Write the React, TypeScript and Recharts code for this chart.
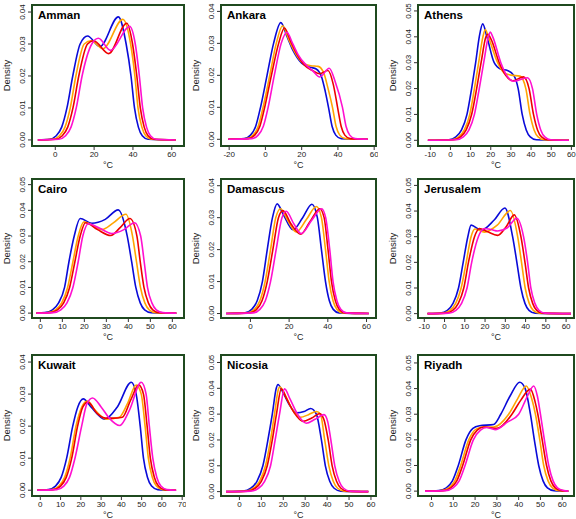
import { LineChart, Line, XAxis, YAxis, ReferenceArea } from "recharts";

type Pt = [number, number];

const lineColors = ["#0a0ad8", "#ffa500", "#ee0000", "#ff10d0"];
const boxColor = "#1f4a1f";

const cityNames = ["Amman", "Ankara", "Athens", "Cairo", "Damascus", "Jerusalem", "Kuwait", "Nicosia", "Riyadh"];

const yTicks4 = [0, 0.01, 0.02, 0.03, 0.04];
const yTicks5 = [0, 0.01, 0.02, 0.03, 0.04, 0.05];

// Amman
const ammanTicks = [0, 20, 40, 60];
const ammanBlue: Pt[] = [[-9,0],[-3,0.0002],[0.5,0.0013],[3.3,0.004],[6,0.01],[9,0.02],[12.8,0.03],[16.6,0.0325],[23,0.0292],[32.5,0.0385],[36.5,0.03],[39,0.02],[40.8,0.01],[42.8,0.004],[44.8,0.0013],[47.8,0.0002],[62,0]];
const ammanOrange: Pt[] = [[-9,0],[-1.3,0.0002],[2.2,0.0013],[5,0.004],[7.7,0.01],[10.6,0.02],[14.9,0.03],[18.5,0.031],[24.5,0.0285],[34.8,0.0377],[38.8,0.03],[41,0.02],[42.6,0.01],[44.6,0.004],[46.6,0.0013],[49.6,0.0002],[62,0]];
const ammanRed: Pt[] = [[-9,0],[0.1,0.0002],[3.6,0.0013],[6.4,0.004],[9.1,0.01],[12.1,0.02],[16.6,0.03],[19.8,0.031],[27.5,0.027],[36.8,0.0365],[39.8,0.03],[42,0.02],[43.8,0.01],[45.8,0.004],[47.8,0.0013],[50.8,0.0002],[62,0]];
const ammanMagenta: Pt[] = [[-9,0],[1.8,0.0002],[5.3,0.0013],[8.1,0.004],[10.8,0.01],[13.8,0.02],[18.8,0.03],[22.2,0.0318],[28.5,0.028],[38.3,0.0355],[41.2,0.03],[43.3,0.02],[45,0.01],[47,0.004],[49,0.0013],[52,0.0002],[62,0]];

// Ankara
const ankaraTicks = [-20, 0, 20, 40, 60];
const ankaraBlue: Pt[] = [[-20.5,0],[-11.7,0.0002],[-8.2,0.0013],[-5.4,0.004],[-2.7,0.01],[0.9,0.02],[4.5,0.03],[8.5,0.0365],[12,0.032],[15,0.028],[20,0.0238],[25,0.0225],[28,0.022],[31,0.0195],[33,0.015],[34.8,0.01],[36.8,0.004],[38.8,0.0013],[41.8,0.0002],[56.5,0]];
const ankaraOrange: Pt[] = [[-20.5,0],[-10.3,0.0002],[-6.8,0.0013],[-4,0.004],[-1.3,0.01],[2.4,0.02],[6,0.03],[9.5,0.0355],[13,0.031],[16,0.0275],[20,0.0242],[25,0.023],[29,0.0228],[32,0.021],[34.5,0.016],[37,0.01],[39,0.004],[41,0.0013],[44,0.0002],[56.5,0]];
const ankaraRed: Pt[] = [[-20.5,0],[-9.4,0.0002],[-5.9,0.0013],[-3.1,0.004],[-0.4,0.01],[3.3,0.02],[7.3,0.03],[10.5,0.0348],[14,0.0305],[17,0.027],[21,0.0235],[26,0.0215],[30,0.0205],[34.5,0.0215],[37.5,0.017],[39.8,0.01],[41.8,0.004],[43.8,0.0013],[46.8,0.0002],[56.5,0]];
const ankaraMagenta: Pt[] = [[-20.5,0],[-7.5,0.0002],[-4,0.0013],[-1.2,0.004],[1.5,0.01],[4.9,0.02],[8.7,0.03],[11.8,0.0335],[15,0.03],[18,0.0265],[22,0.0235],[26,0.0215],[30,0.0195],[35.2,0.0222],[38.5,0.018],[42.5,0.01],[44.5,0.004],[46.5,0.0013],[49.5,0.0002],[56.5,0]];

// Athens
const athensTicks = [-10, 0, 10, 20, 30, 40, 50, 60];
const athensBlue: Pt[] = [[-11.2,0],[-0.8,0.0002],[2.7,0.0013],[5.5,0.004],[8.2,0.01],[10.5,0.02],[12.5,0.03],[14.3,0.04],[16,0.045],[18.1,0.04],[21.7,0.03],[25,0.0275],[28.3,0.027],[31.5,0.025],[33.6,0.02],[35.6,0.01],[37.6,0.004],[39.6,0.0013],[42.6,0.0002],[58.8,0]];
const athensOrange: Pt[] = [[-11.2,0],[0.6,0.0002],[4.1,0.0013],[6.9,0.004],[9.6,0.01],[11.9,0.02],[14,0.03],[16.1,0.04],[17.3,0.0428],[18.8,0.04],[23.4,0.03],[26.7,0.026],[30,0.0252],[34.5,0.0248],[37.4,0.02],[39.5,0.01],[41.5,0.004],[43.5,0.0013],[46.5,0.0002],[58.8,0]];
const athensRed: Pt[] = [[-11.2,0],[1.5,0.0002],[5,0.0013],[7.8,0.004],[10.5,0.01],[13,0.02],[15.2,0.03],[17.6,0.04],[18.6,0.041],[20.2,0.039],[24.2,0.03],[27.5,0.025],[30.8,0.023],[36.2,0.0245],[39,0.02],[41.2,0.01],[43.2,0.004],[45.2,0.0013],[48.2,0.0002],[58.8,0]];
const athensMagenta: Pt[] = [[-11.2,0],[2.9,0.0002],[6.4,0.0013],[9.2,0.004],[11.9,0.01],[14.3,0.02],[16.5,0.03],[18.8,0.04],[19.8,0.0418],[21,0.04],[25,0.03],[28,0.025],[31.3,0.0228],[38.2,0.0242],[40.7,0.02],[42.8,0.01],[44.8,0.004],[46.8,0.0013],[49.8,0.0002],[58.8,0]];

// Cairo
const cairoTicks = [0, 10, 20, 30, 40, 50, 60];
const cairoBlue: Pt[] = [[-1.8,0],[2,0.0002],[5.5,0.0013],[8.3,0.004],[11,0.01],[13,0.02],[15.4,0.03],[18.1,0.0368],[23.4,0.035],[29.5,0.0365],[35.4,0.0402],[39.5,0.03],[41.5,0.02],[43.4,0.01],[45.4,0.004],[47.4,0.0013],[50.4,0.0002],[61.8,0]];
const cairoOrange: Pt[] = [[-1.8,0],[3.4,0.0002],[6.9,0.0013],[9.7,0.004],[12.4,0.01],[14.8,0.02],[17.2,0.03],[19.8,0.0355],[23,0.0345],[28,0.0325],[33,0.035],[38.9,0.0385],[41.9,0.03],[43.7,0.02],[45.5,0.01],[47.5,0.004],[49.5,0.0013],[52.5,0.0002],[61.8,0]];
const cairoRed: Pt[] = [[-1.8,0],[4.3,0.0002],[7.8,0.0013],[10.6,0.004],[13.3,0.01],[15.7,0.02],[18.1,0.03],[20.5,0.0352],[26,0.0325],[32,0.0302],[36.5,0.0335],[40.7,0.0368],[43.9,0.03],[45.4,0.02],[47.1,0.01],[49.1,0.004],[51.1,0.0013],[54.1,0.0002],[61.8,0]];
const cairoMagenta: Pt[] = [[-1.8,0],[5.8,0.0002],[9.3,0.0013],[12.1,0.004],[14.8,0.01],[17.2,0.02],[19.3,0.03],[21.8,0.0348],[27,0.033],[32.5,0.031],[38,0.0325],[42.8,0.0352],[45.6,0.03],[47.2,0.02],[48.7,0.01],[50.7,0.004],[52.7,0.0013],[55.7,0.0002],[61.8,0]];

// Damascus
const damascusTicks = [0, 20, 40, 60];
const damascusBlue: Pt[] = [[-12.6,0],[-2.8,0.0002],[0.7,0.0013],[3.5,0.004],[6.2,0.01],[8.7,0.02],[11.4,0.03],[13.8,0.0343],[17,0.031],[22,0.0262],[27,0.03],[31.8,0.0342],[34.6,0.03],[36.7,0.02],[38.8,0.01],[40.8,0.004],[42.8,0.0013],[45.8,0.0002],[61.2,0]];
const damascusOrange: Pt[] = [[-12.6,0],[-1.4,0.0002],[2.1,0.0013],[4.9,0.004],[7.6,0.01],[10.4,0.02],[13.1,0.03],[15.6,0.0328],[19,0.0295],[23.7,0.0255],[29,0.0295],[34.1,0.0335],[36.7,0.03],[38.8,0.02],[40.7,0.01],[42.7,0.004],[44.7,0.0013],[47.7,0.0002],[61.2,0]];
const damascusRed: Pt[] = [[-12.6,0],[-0.3,0.0002],[3.2,0.0013],[6,0.004],[8.7,0.01],[11.6,0.02],[14.5,0.03],[16.8,0.0322],[21,0.028],[26,0.0248],[31,0.029],[35.8,0.0328],[38.1,0.03],[40.1,0.02],[41.9,0.01],[43.9,0.004],[45.9,0.0013],[48.9,0.0002],[61.2,0]];
const damascusMagenta: Pt[] = [[-12.6,0],[1.4,0.0002],[4.9,0.0013],[7.7,0.004],[10.4,0.01],[13.3,0.02],[16.3,0.03],[18.5,0.032],[22.5,0.028],[26.3,0.025],[31.5,0.029],[36.8,0.0328],[38.9,0.03],[41,0.02],[42.7,0.01],[44.7,0.004],[46.7,0.0013],[49.7,0.0002],[61.2,0]];

// Jerusalem
const jerusalemTicks = [-10, 0, 10, 20, 30, 40, 50, 60];
const jerusalemBlue: Pt[] = [[-8.4,0],[-2.1,0.0002],[1.4,0.0013],[4.2,0.004],[6.9,0.01],[9.2,0.02],[11.5,0.03],[13.1,0.0345],[18,0.0325],[24.5,0.0365],[29.8,0.0412],[33.6,0.03],[35.7,0.02],[37.7,0.01],[39.7,0.004],[41.7,0.0013],[44.7,0.0002],[62.4,0]];
const jerusalemOrange: Pt[] = [[-8.4,0],[-0.8,0.0002],[2.7,0.0013],[5.5,0.004],[8.2,0.01],[10.7,0.02],[13.1,0.03],[15,0.033],[19.7,0.0318],[26,0.0345],[32.5,0.0402],[36.1,0.03],[38,0.02],[39.8,0.01],[41.8,0.004],[43.8,0.0013],[46.8,0.0002],[62.4,0]];
const jerusalemRed: Pt[] = [[-8.4,0],[0.5,0.0002],[4,0.0013],[6.8,0.004],[9.5,0.01],[11.8,0.02],[14.8,0.03],[17.2,0.0332],[21,0.032],[26.2,0.0305],[30.5,0.034],[34.4,0.0385],[37.7,0.03],[39.7,0.02],[41.5,0.01],[43.5,0.004],[45.5,0.0013],[48.5,0.0002],[62.4,0]];
const jerusalemMagenta: Pt[] = [[-8.4,0],[2.1,0.0002],[5.6,0.0013],[8.4,0.004],[11.1,0.01],[13.4,0.02],[16.7,0.03],[19.7,0.0332],[23,0.0328],[26.2,0.0322],[31,0.0335],[35.7,0.0372],[39,0.03],[41,0.02],[42.6,0.01],[44.6,0.004],[46.6,0.0013],[49.6,0.0002],[62.4,0]];

// Kuwait
const kuwaitTicks = [0, 10, 20, 30, 40, 50, 60, 70];
const kuwaitBlue: Pt[] = [[-1.6,0],[4,0.0002],[7.5,0.0013],[10.3,0.004],[13,0.01],[16,0.02],[18.5,0.026],[21.2,0.0285],[25,0.026],[31.8,0.0222],[38,0.026],[44.9,0.0337],[47.3,0.03],[49.3,0.02],[50.9,0.01],[52.9,0.004],[54.9,0.0013],[57.9,0.0002],[67,0]];
const kuwaitOrange: Pt[] = [[-1.6,0],[5.7,0.0002],[9.2,0.0013],[12,0.004],[14.7,0.01],[17.6,0.02],[20.5,0.026],[23.2,0.0278],[27,0.025],[32.6,0.0222],[39,0.0228],[43,0.027],[47.3,0.0328],[49.8,0.03],[51.7,0.02],[53.3,0.01],[55.3,0.004],[57.3,0.0013],[60.3,0.0002],[67,0]];
const kuwaitRed: Pt[] = [[-1.6,0],[6.5,0.0002],[10,0.0013],[12.8,0.004],[15.5,0.01],[18.4,0.02],[21,0.026],[23.5,0.0275],[28,0.024],[32.3,0.0225],[36,0.0225],[40.5,0.0228],[44.5,0.028],[48.6,0.0328],[50.9,0.03],[52.7,0.02],[54.3,0.01],[56.3,0.004],[58.3,0.0013],[61.3,0.0002],[67,0]];
const kuwaitMagenta: Pt[] = [[-1.6,0],[8.1,0.0002],[11.6,0.0013],[14.4,0.004],[17.1,0.01],[20.4,0.02],[23,0.027],[25.8,0.0288],[30,0.026],[34,0.0225],[39.2,0.0202],[44,0.025],[49.8,0.0337],[52.2,0.03],[53.8,0.02],[55.5,0.01],[57.5,0.004],[59.5,0.0013],[62.5,0.0002],[67,0]];

// Nicosia
const nicosiaTicks = [0, 10, 20, 30, 40, 50, 60];
const nicosiaBlue: Pt[] = [[-6.1,0],[1.7,0.0002],[5.2,0.0013],[8,0.004],[10.7,0.01],[13,0.02],[15,0.03],[16.8,0.04],[17.6,0.0415],[19.5,0.039],[22.5,0.034],[26,0.0305],[29.5,0.031],[32.5,0.0322],[35.1,0.03],[37.4,0.02],[39.2,0.01],[41.2,0.004],[43.2,0.0013],[46.2,0.0002],[58.8,0]];
const nicosiaOrange: Pt[] = [[-6.1,0],[2.9,0.0002],[6.4,0.0013],[9.2,0.004],[11.9,0.01],[14.2,0.02],[16,0.03],[17.9,0.04],[18.5,0.0405],[20.5,0.038],[24,0.032],[27.9,0.0288],[31.5,0.0298],[35.1,0.031],[37,0.03],[38.9,0.02],[40.8,0.01],[42.8,0.004],[44.8,0.0013],[47.8,0.0002],[58.8,0]];
const nicosiaRed: Pt[] = [[-6.1,0],[3.7,0.0002],[7.2,0.0013],[10,0.004],[12.7,0.01],[15,0.02],[16.9,0.03],[19.1,0.0398],[21.5,0.036],[25,0.0305],[29,0.0272],[33,0.0285],[36.6,0.0302],[38.5,0.028],[40.5,0.02],[42.3,0.01],[44.3,0.004],[46.3,0.0013],[49.3,0.0002],[58.8,0]];
const nicosiaMagenta: Pt[] = [[-6.1,0],[5.2,0.0002],[8.7,0.0013],[11.5,0.004],[14.2,0.01],[16.3,0.02],[18.3,0.03],[20.6,0.0398],[23,0.036],[26.5,0.03],[30.5,0.0265],[34.5,0.028],[38.6,0.0298],[40.3,0.027],[41.7,0.02],[43.5,0.01],[45.5,0.004],[47.5,0.0013],[50.5,0.0002],[58.8,0]];

// Riyadh
const riyadhTicks = [0, 10, 20, 30, 40, 50, 60];
const riyadhBlue: Pt[] = [[-3,0],[3.3,0.0002],[6.8,0.0013],[9.6,0.004],[12.3,0.01],[15.8,0.02],[19,0.0245],[22,0.0255],[28.5,0.026],[31.8,0.03],[36,0.037],[40.5,0.0425],[43,0.04],[45.4,0.03],[47.2,0.02],[49.2,0.01],[51.2,0.004],[53.2,0.0013],[56.2,0.0002],[62.8,0]];
const riyadhOrange: Pt[] = [[-3,0],[4.4,0.0002],[7.9,0.0013],[10.7,0.004],[13.4,0.01],[17.1,0.02],[20.5,0.0242],[24,0.025],[28.5,0.025],[35.4,0.03],[39.5,0.036],[43.5,0.041],[46,0.036],[47.7,0.03],[49.7,0.02],[51.5,0.01],[53.5,0.004],[55.5,0.0013],[58.5,0.0002],[62.8,0]];
const riyadhRed: Pt[] = [[-3,0],[5.3,0.0002],[8.8,0.0013],[11.6,0.004],[14.3,0.01],[18,0.02],[21,0.0238],[24,0.025],[30,0.0245],[36.9,0.03],[41,0.0355],[45.4,0.0398],[47.5,0.035],[48.8,0.03],[50.8,0.02],[52.8,0.01],[54.8,0.004],[56.8,0.0013],[59.8,0.0002],[62.8,0]];
const riyadhMagenta: Pt[] = [[-3,0],[6.4,0.0002],[9.9,0.0013],[12.7,0.004],[15.4,0.01],[19.2,0.02],[22.5,0.0238],[25.4,0.0248],[29.2,0.024],[35,0.027],[40,0.03],[44,0.037],[46.9,0.041],[48.6,0.037],[50,0.03],[51.8,0.02],[53.8,0.01],[55.8,0.004],[57.8,0.0013],[60.8,0.0002],[62.8,0]];

// page pixel edges of the framed plot boxes
const colEdges = [[32, 184], [221, 376], [418, 574]];
const rowEdges = [[5, 146], [179, 318], [355, 496]];

const panels = [
  { series: [ammanBlue, ammanOrange, ammanRed, ammanMagenta], xTicks: ammanTicks, xDomain: [-12, 66.3], yTicks: yTicks4, yDomain: [-0.0019, 0.0422] },
  { series: [ankaraBlue, ankaraOrange, ankaraRed, ankaraMagenta], xTicks: ankaraTicks, xDomain: [-24.5, 61], yTicks: yTicks4, yDomain: [-0.0021, 0.042] },
  { series: [athensBlue, athensOrange, athensRed, athensMagenta], xTicks: athensTicks, xDomain: [-16.1, 61.3], yTicks: yTicks5, yDomain: [-0.0022, 0.0523] },
  { series: [cairoBlue, cairoOrange, cairoRed, cairoMagenta], xTicks: cairoTicks, xDomain: [-3.8, 65.3], yTicks: yTicks5, yDomain: [-0.0019, 0.0522] },
  { series: [damascusBlue, damascusOrange, damascusRed, damascusMagenta], xTicks: damascusTicks, xDomain: [-15.2, 64.9], yTicks: yTicks4, yDomain: [-0.0014, 0.0421] },
  { series: [jerusalemBlue, jerusalemOrange, jerusalemRed, jerusalemMagenta], xTicks: jerusalemTicks, xDomain: [-13.1, 63.9], yTicks: yTicks5, yDomain: [-0.0017, 0.0525] },
  { series: [kuwaitBlue, kuwaitOrange, kuwaitRed, kuwaitMagenta], xTicks: kuwaitTicks, xDomain: [-4.1, 70.9], yTicks: yTicks4, yDomain: [-0.0018, 0.0422] },
  { series: [nicosiaBlue, nicosiaOrange, nicosiaRed, nicosiaMagenta], xTicks: nicosiaTicks, xDomain: [-8.4, 62.3], yTicks: yTicks5, yDomain: [-0.0017, 0.0529] },
  { series: [riyadhBlue, riyadhOrange, riyadhRed, riyadhMagenta], xTicks: riyadhTicks, xDomain: [-6.2, 65.4], yTicks: yTicks5, yDomain: [-0.0019, 0.0531] },
];

const YTick = (props: any) => {
  const { x, y, payload } = props;
  return (
    <text x={x} y={y} transform={`rotate(-90 ${x} ${y})`} textAnchor="middle" fontSize={8} fill="#222">
      {Number(payload.value).toFixed(2)}
    </text>
  );
};

function Panel({ idx }: { idx: number }) {
  const p = panels[idx];
  const [bx0, bx1] = colEdges[idx % 3];
  const [by0, by1] = rowEdges[Math.floor(idx / 3)];
  const w = bx1 - bx0 + 36;
  const h = by1 - by0 + 32;
  return (
    <div style={{ position: "absolute", left: bx0 - 34, top: by0 - 6 }}>
      <LineChart width={w} height={h} margin={{ top: 6, right: 2, bottom: 0, left: 0 }}>
        <XAxis
          type="number"
          dataKey="t"
          domain={p.xDomain}
          ticks={p.xTicks}
          interval={0}
          allowDataOverflow
          height={26}
          tickSize={4}
          tickMargin={1}
          axisLine={false}
          tickLine={{ stroke: "#333" }}
          tick={{ fontSize: 8, fill: "#222" }}
          label={{ value: "°C", position: "insideBottom", offset: 4, fontSize: 9, fill: "#222" }}
        />
        <YAxis
          type="number"
          domain={p.yDomain}
          ticks={p.yTicks}
          interval={0}
          allowDataOverflow
          width={34}
          tickSize={4}
          tickMargin={3}
          axisLine={false}
          tickLine={{ stroke: "#333" }}
          tick={(props: any) => <YTick {...props} />}
          label={{ value: "Density", angle: -90, position: "insideLeft", offset: 9, fontSize: 9.5, fill: "#222", style: { textAnchor: "middle" } }}
        />
        <ReferenceArea
          x1={p.xDomain[0]}
          x2={p.xDomain[1]}
          y1={p.yDomain[0]}
          y2={p.yDomain[1]}
          fill="none"
          stroke={boxColor}
          strokeWidth={2}
          label={{ value: cityNames[idx], position: "insideTopLeft", offset: 6, fontSize: 11.5, fontWeight: "bold", fill: "#000" }}
        />
        {p.series.map((s, i) => (
          <Line
            key={i}
            data={s.map(([t, d]) => ({ t, d }))}
            dataKey="d"
            type="monotone"
            stroke={lineColors[i]}
            strokeWidth={1.6}
            dot={false}
            activeDot={false}
            isAnimationActive={false}
          />
        ))}
      </LineChart>
    </div>
  );
}

export default function App() {
  return (
    <div
      style={{
        position: "absolute",
        left: 0,
        top: 0,
        width: 576,
        height: 519,
        overflow: "hidden",
        background: "#fff",
        fontFamily: "'Liberation Sans', Arial, sans-serif",
      }}
    >
      {panels.map((_, i) => (
        <Panel key={cityNames[i]} idx={i} />
      ))}
    </div>
  );
}
